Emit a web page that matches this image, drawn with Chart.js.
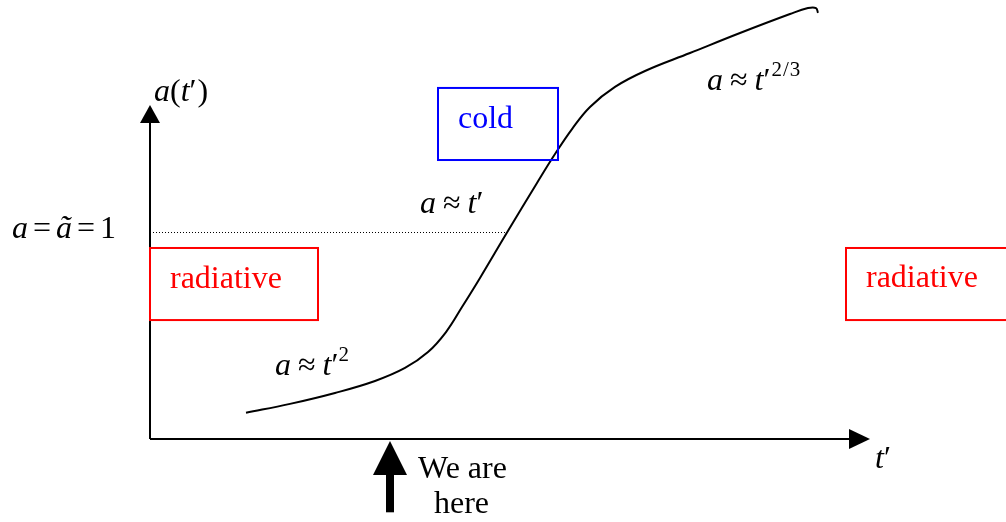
<!DOCTYPE html>
<html><head><meta charset="utf-8">
<script src="https://cdn.jsdelivr.net/npm/chart.js@4.4.1/dist/chart.umd.min.js"></script>
<style>html,body{margin:0;padding:0;background:#fff;overflow:hidden}canvas{display:block}</style>
</head><body>
<canvas id="c" width="1006" height="522"></canvas>
<script>
// ---- data (t' along x, a along y; a = 1 at the dotted level) ----
const curveT = [0.96, 1.40, 1.85, 2.25, 2.55, 2.78, 2.96, 3.12, 3.30, 3.57, 3.87, 4.05, 4.22, 4.40, 4.65, 4.95, 5.40, 5.90, 6.40, 6.58, 6.66, 6.68];
const curveA = [0.127, 0.170, 0.223, 0.281, 0.344, 0.421, 0.518, 0.639, 0.780, 1.000, 1.240, 1.380, 1.501, 1.608, 1.705, 1.782, 1.869, 1.966, 2.058, 2.087, 2.087, 2.063];
const unitLevelT = [0.03, 3.55];
const unitLevelA = [1, 1];
const timeAxisT = [0, 7.0];
const timeAxisA = [0, 0];
const scaleAxisT = [0, 0];
const scaleAxisA = [0, 1.55];
const hereT = [2.40, 2.40];
const hereA = [-0.355, -0.16];

// ---- layout (data-space positions of annotations) ----
const U = 206.5;
const X_MIN = -1.5, X_MAX = 8.56, Y_MIN = -83 / U, Y_MAX = 439 / U;
const boxes = [
  {t0: 0.0, t1: 1.68, a0: 0.576, a1: 0.925, color: '#ff0000'},
  {t0: 6.96, t1: 8.70, a0: 0.576, a1: 0.925, color: '#ff0000'},
  {t0: 2.88, t1: 4.08, a0: 1.351, a1: 1.700, color: '#0000ff'}
];
const arrows = [
  {tipT: 0, tipA: 1.617, baseT: 0, baseA: 1.530, half: 10},
  {tipT: 7.20, tipA: 0, baseT: 6.99, baseA: 0, half: 10},
  {tipT: 2.40, tipA: -0.0097, baseT: 2.40, baseA: -0.174, half: 17}
];
const IT = 'italic', UP = 'normal';
const labels = [
  {t: 0.20, a: 0.731, color: '#ff0000', runs: [{s: 'radiative', st: UP}]},
  {t: 7.16, a: 0.736, color: '#ff0000', runs: [{s: 'radiative', st: UP}]},
  {t: 3.08, a: 1.506, color: '#0000ff', runs: [{s: 'cold', st: UP}]},
  {t: 2.68, a: -0.189, color: '#000', runs: [{s: 'We are', st: UP}]},
  {t: 2.84, a: -0.358, color: '#000', runs: [{s: 'here', st: UP}]},
  {t: 0.04, a: 1.637, color: '#000', runs: [{s: 'a', st: IT}, {s: '(', st: UP}, {s: 't', st: IT}, {s: '′', st: UP}, {g: 1}, {s: ')', st: UP}]},
  {t: -1.38, a: 0.973, color: '#000', runs: [{s: 'a', st: IT}, {g: 5}, {s: '=', st: UP}, {g: 5}, {s: 'ã', st: IT}, {g: 5}, {s: '=', st: UP}, {g: 5}, {s: '1', st: UP}]},
  {t: 7.25, a: -0.140, color: '#000', runs: [{s: 't', st: IT}, {s: '′', st: UP}]},
  {t: 1.25, a: 0.310, color: '#000', runs: [{s: 'a', st: IT}, {g: 7}, {s: '≈', st: UP}, {g: 7}, {s: 't', st: IT}, {s: '′', st: UP}, {s: '2', st: UP, size: 21, dy: -14}]},
  {t: 2.70, a: 1.094, color: '#000', runs: [{s: 'a', st: IT}, {g: 7}, {s: '≈', st: UP}, {g: 7}, {s: 't', st: IT}, {s: '′', st: UP}]},
  {t: 5.57, a: 1.690, color: '#000', runs: [{s: 'a', st: IT}, {g: 7}, {s: '≈', st: UP}, {g: 7}, {s: 't', st: IT}, {s: '′', st: UP}, {g: 1}, {s: '2', st: UP, size: 21, dy: -14}, {g: 1}, {s: '/', st: UP, size: 21, dy: -14}, {g: 1}, {s: '3', st: UP, size: 21, dy: -14}]}
];
const FONT = '"Liberation Serif", "Times New Roman", serif';

const annotate = {
  id: 'annotate',
  afterDatasetsDraw(chart) {
    const ctx = chart.ctx, xs = chart.scales.x, ys = chart.scales.y;
    ctx.save();
    boxes.forEach(b => {
      const x0 = xs.getPixelForValue(b.t0), x1 = xs.getPixelForValue(b.t1);
      const y0 = ys.getPixelForValue(b.a1), y1 = ys.getPixelForValue(b.a0);
      ctx.strokeStyle = b.color; ctx.lineWidth = 2;
      ctx.strokeRect(x0, y0, x1 - x0, y1 - y0);
    });
    arrows.forEach(a => {
      const tx = xs.getPixelForValue(a.tipT), ty = ys.getPixelForValue(a.tipA);
      const bx = xs.getPixelForValue(a.baseT), by = ys.getPixelForValue(a.baseA);
      const dx = tx - bx, dy = ty - by, len = Math.hypot(dx, dy);
      const nx = -dy / len, ny = dx / len;
      ctx.fillStyle = '#000';
      ctx.beginPath();
      ctx.moveTo(tx, ty);
      ctx.lineTo(bx + nx * a.half, by + ny * a.half);
      ctx.lineTo(bx - nx * a.half, by - ny * a.half);
      ctx.closePath(); ctx.fill();
    });
    ctx.textBaseline = 'alphabetic'; ctx.textAlign = 'left';
    labels.forEach(l => {
      let x = xs.getPixelForValue(l.t);
      const y = ys.getPixelForValue(l.a);
      ctx.fillStyle = l.color;
      l.runs.forEach(r => {
        if (r.g) { x += r.g; return; }
        ctx.font = r.st + ' ' + (r.size || 32) + 'px ' + FONT;
        ctx.fillText(r.s, x, y + (r.dy || 0));
        x += ctx.measureText(r.s).width;
      });
    });
    ctx.restore();
  }
};

const pts = (xs, ys) => xs.map((v, i) => ({x: v, y: ys[i]}));
new Chart(document.getElementById('c'), {
  type: 'scatter',
  data: {
    datasets: [
      {data: pts(curveT, curveA), showLine: true, borderColor: '#000', borderWidth: 2, pointRadius: 0, tension: 0.4},
      {data: pts(unitLevelT, unitLevelA), showLine: true, borderColor: '#000', borderWidth: 1, borderDash: [1, 2], pointRadius: 0},
      {data: pts(timeAxisT, timeAxisA), showLine: true, borderColor: '#000', borderWidth: 2, pointRadius: 0},
      {data: pts(scaleAxisT, scaleAxisA), showLine: true, borderColor: '#000', borderWidth: 2, pointRadius: 0},
      {data: pts(hereT, hereA), showLine: true, borderColor: '#000', borderWidth: 8, borderCapStyle: 'butt', pointRadius: 0}
    ]
  },
  options: {
    responsive: false, animation: false, devicePixelRatio: 1,
    layout: {padding: 0},
    plugins: {legend: {display: false}, tooltip: {enabled: false}},
    events: [],
    scales: {
      x: {type: 'linear', min: X_MIN, max: X_MAX, display: false},
      y: {type: 'linear', min: Y_MIN, max: Y_MAX, display: false}
    }
  },
  plugins: [annotate]
});
</script>
</body></html>
